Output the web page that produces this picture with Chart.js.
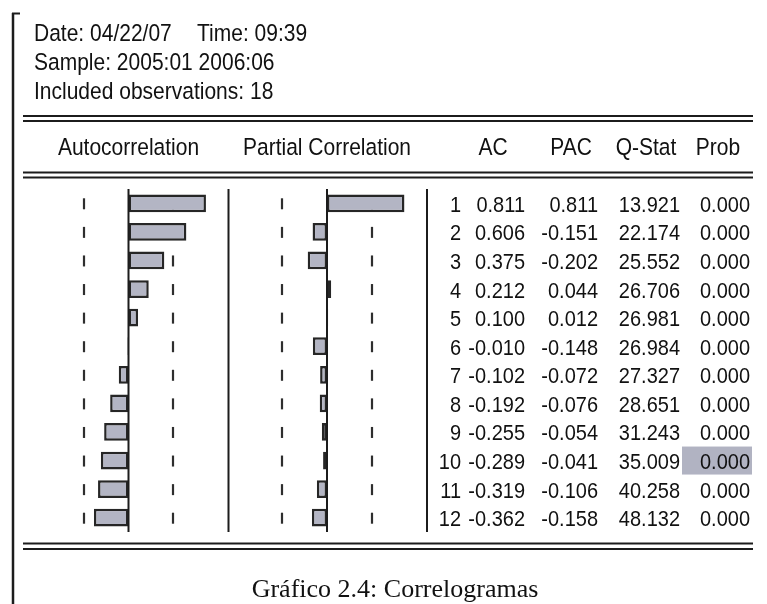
<!DOCTYPE html>
<html>
<head>
<meta charset="utf-8">
<script src="https://cdn.jsdelivr.net/npm/chart.js@4/dist/chart.umd.min.js"></script>
<style>
  body { margin:0; background:#fff; }
  #wrap { position:relative; width:767px; height:604px; }
</style>
</head>
<body>
<div id="wrap"><canvas id="corr" width="767" height="604"></canvas></div>
<script>
// ---- data ----
const lags = ['1','2','3','4','5','6','7','8','9','10','11','12'];
const acValues  = [0.811, 0.606, 0.375, 0.212, 0.100, -0.010, -0.102, -0.192, -0.255, -0.289, -0.319, -0.362];
const pacValues = [0.811, -0.151, -0.202, 0.044, 0.012, -0.148, -0.072, -0.076, -0.054, -0.041, -0.106, -0.158];
const qStat     = [13.921, 22.174, 25.552, 26.706, 26.981, 26.984, 27.327, 28.651, 31.243, 35.009, 40.258, 48.132];
const probValues = [0.000, 0.000, 0.000, 0.000, 0.000, 0.000, 0.000, 0.000, 0.000, 0.000, 0.000, 0.000];
const confBound = 0.471;
const highlightRow = 9; // Prob da lag 10 selecionada

const headerLines = ['Sample: 2005:01 2006:06', 'Included observations: 18'];
const caption = 'Gráfico 2.4: Correlogramas';

// ---- layout ----
const areaLeft = 23, areaRight = 750;
const unit = 95.5;          // pixels per 1.0 of correlation
const acZero = 128.5, pacZero = 327;
const sans = '"Liberation Sans", Arial, sans-serif';
const ink = '#1c1c1c';

function hline(ctx, x1, x2, y, w){
  ctx.beginPath(); ctx.lineWidth = w; ctx.moveTo(x1, y); ctx.lineTo(x2, y); ctx.stroke();
}
function vline(ctx, x, y1, y2, w){
  ctx.beginPath(); ctx.lineWidth = w; ctx.moveTo(x, y1); ctx.lineTo(x, y2); ctx.stroke();
}
// texto um pouco esticado na vertical, como a fonte do EViews
function tallText(ctx, t, x, y){
  ctx.save();
  ctx.translate(x, y);
  ctx.scale(1, 1.12);
  ctx.fillText(t, 0, 0);
  ctx.restore();
}

const framePlugin = {
  id:'frame',
  beforeDatasetsDraw(chart){
    const ctx = chart.ctx, y = chart.scales.y;
    const xa = chart.scales.xAC, xp = chart.scales.xPAC;
    ctx.save();
    // confidence dashes (behind the bars)
    ctx.strokeStyle = '#2e2e2e';
    lags.forEach((l, i) => {
      const cy = y.getPixelForValue(i);
      [xa, xp].forEach(s => {
        [-confBound, confBound].forEach(v => vline(ctx, Math.round(s.getPixelForValue(v)), cy - 5, cy + 6, 2.2));
      });
    });
    // highlighted cell
    const hy = y.getPixelForValue(highlightRow);
    ctx.fillStyle = '#b1b3c2';
    ctx.fillRect(682, hy - 14, 70, 28);
    ctx.restore();
  },
  afterDatasetsDraw(chart){
    const ctx = chart.ctx, y = chart.scales.y, a = chart.chartArea;
    const xa = chart.scales.xAC, xp = chart.scales.xPAC;
    ctx.save();
    ctx.strokeStyle = ink;
    // zero lines and panel separators
    vline(ctx, xa.getPixelForValue(0), a.top, a.bottom, 2);
    vline(ctx, xp.getPixelForValue(0), a.top, a.bottom, 2);
    vline(ctx, 228.5, a.top, a.bottom, 2);
    vline(ctx, 427, a.top, a.bottom, 2);
    // double rules
    [[116, 121], [172.5, 177.5], [543.5, 549]].forEach(p => p.forEach(yy => hline(ctx, areaLeft, 753, yy, 2)));
    // left border
    vline(ctx, 13, 13, 604, 2.5);
    hline(ctx, 12, 20, 13.5, 2);

    ctx.fillStyle = '#111';
    ctx.font = '21px ' + sans;
    ctx.textAlign = 'left';
    tallText(ctx, 'Date: 04/22/07', 34, 41);
    tallText(ctx, 'Time: 09:39', 197, 41);
    headerLines.forEach((t, i) => tallText(ctx, t, 34, 69.5 + i * 29));

    ctx.textAlign = 'center';
    tallText(ctx, 'Autocorrelation', acZero, 155);
    tallText(ctx, 'Partial Correlation', pacZero, 155);
    tallText(ctx, 'AC', 493, 155);
    tallText(ctx, 'PAC', 571, 155);
    tallText(ctx, 'Q-Stat', 646, 155);
    tallText(ctx, 'Prob', 718, 155);

    ctx.font = '20px ' + sans;
    ctx.textAlign = 'right';
    lags.forEach((l, i) => {
      const by = y.getPixelForValue(i) + 8.5;
      tallText(ctx, l, 461, by);
      tallText(ctx, acValues[i].toFixed(3), 525, by);
      tallText(ctx, pacValues[i].toFixed(3), 598, by);
      tallText(ctx, qStat[i].toFixed(3), 680, by);
      tallText(ctx, probValues[i].toFixed(3), 750, by);
    });

    ctx.textAlign = 'center';
    ctx.font = '26px "Liberation Serif", "Times New Roman", serif';
    ctx.fillText(caption, 395, 597);
    ctx.restore();
  }
};

const barStyle = {
  backgroundColor:'#b3b5c4',
  borderColor:'#262626',
  borderWidth:2.5,
  borderSkipped:false,
  grouped:false,
  barPercentage:0.62,
  categoryPercentage:1.0
};

new Chart(document.getElementById('corr'), {
  type:'bar',
  data:{
    labels:lags,
    datasets:[
      Object.assign({label:'Autocorrelation', data:acValues, xAxisID:'xAC'}, barStyle),
      Object.assign({label:'Partial Correlation', data:pacValues, xAxisID:'xPAC'}, barStyle)
    ]
  },
  options:{
    indexAxis:'y',
    responsive:false,
    animation:false,
    devicePixelRatio:1,
    layout:{padding:{left:areaLeft, right:767 - areaRight, top:189, bottom:72}},
    plugins:{legend:{display:false}, title:{display:false}, tooltip:{enabled:false}},
    scales:{
      y:{type:'category', display:false, offset:true},
      xAC:{type:'linear', axis:'x', display:false,
           min:(areaLeft - acZero) / unit, max:(areaRight - acZero) / unit},
      xPAC:{type:'linear', axis:'x', display:false,
            min:(areaLeft - pacZero) / unit, max:(areaRight - pacZero) / unit}
    }
  },
  plugins:[framePlugin]
});
</script>
</body>
</html>
